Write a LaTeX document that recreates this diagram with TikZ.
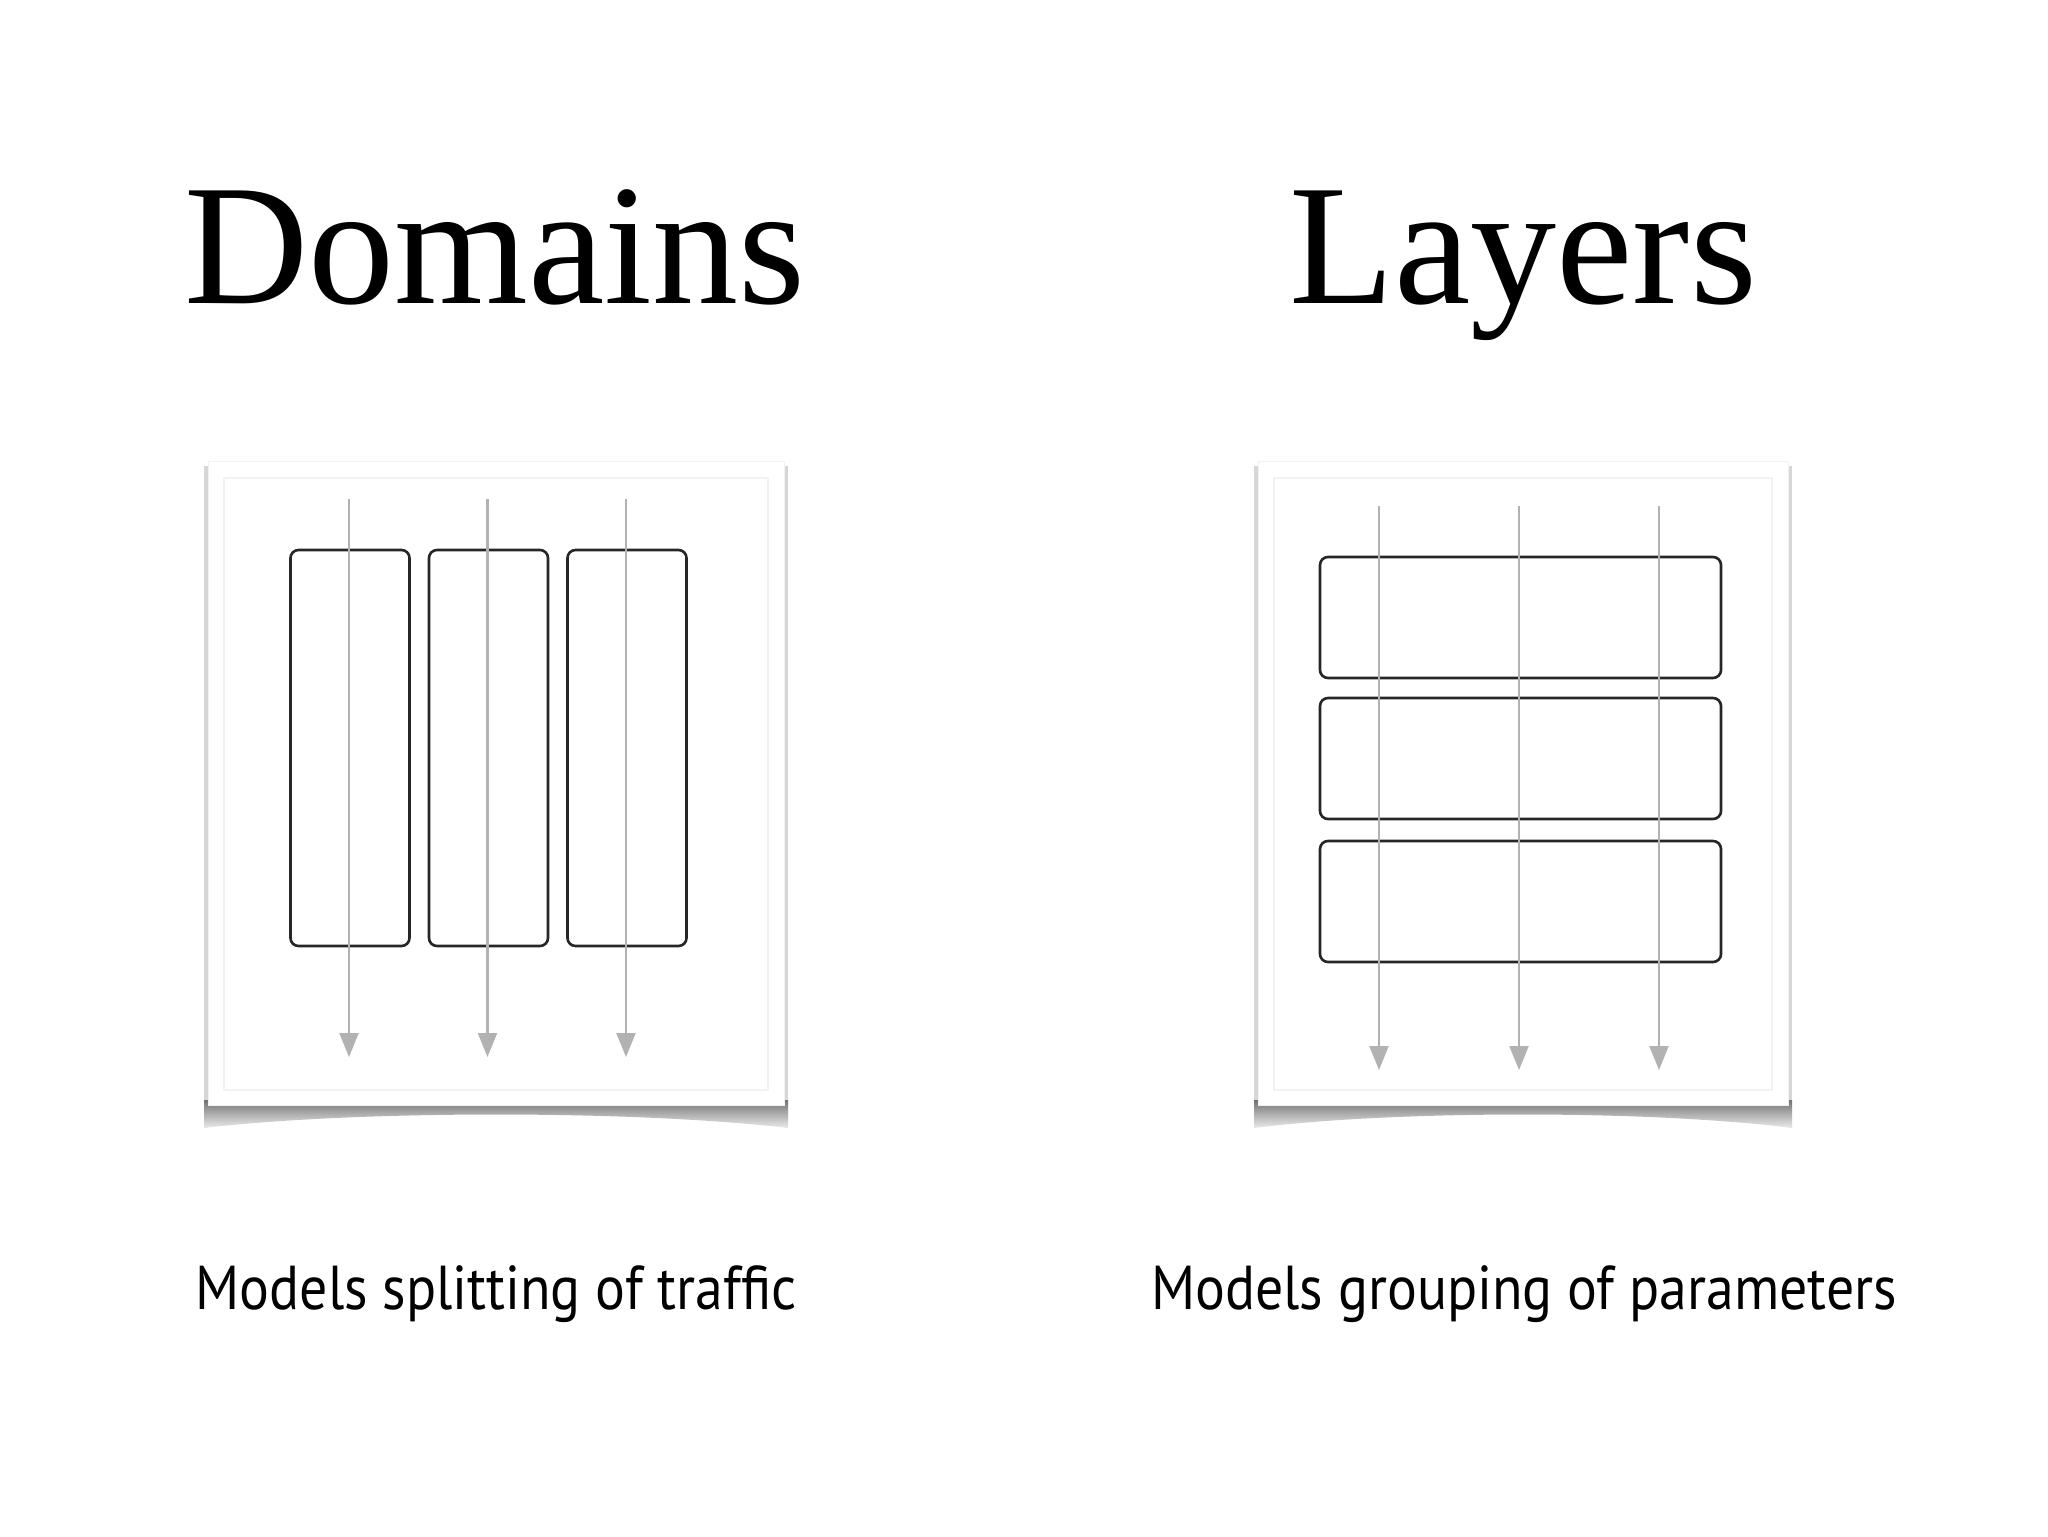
\documentclass[tikz,border=0pt]{standalone}
\usepackage{fontspec}
\setmainfont{Liberation Serif}
\newfontfamily\capfont{PT Sans}
\usetikzlibrary{arrows.meta}
\newcommand\capsq[1]{\scalebox{0.9}[1]{#1}}
\tikzset{
  titletext/.style={anchor=base, font=\fontsize{86}{100}\selectfont},
  captext/.style={anchor=base, font=\capfont\fontsize{31}{38}\selectfont},
  blockbox/.style={draw=black!85, line width=1.3pt, rounded corners=4pt, fill=none, inner sep=0pt},
  flow/.style={draw=black!30, line width=1.1pt, -{Triangle[length=12pt,width=9.5pt]}},
  panelfill/.style={fill=white, draw=black!5, line width=0.5pt},
  panelside/.style={fill=black!16},
  innerline/.style={draw=black!5, line width=0.6pt},
  bottomshadow/.style={top color=black!55, bottom color=black!8, draw=none}
}
\begin{document}
\begin{tikzpicture}[x=0.5pt,y=-0.5pt]
\useasboundingbox (0,0) rectangle (2048,1536);
\fill[white] (0,0) rectangle (2048,1536);

% titles
\node[titletext] (tdom) at (495,303) {Domains};
\node[titletext] (tlay) at (1523,303) {Layers};

% ---------- left panel frame ----------
\fill[panelside] (204,466) rectangle (788,1105);
\shade[bottomshadow] (204,1100) -- (788,1100) -- (788,1128) .. controls (636,1110) and (356,1110) .. (204,1128) -- cycle;
\fill[panelfill] (208,461) rectangle (784,1105);
\draw[innerline] (224,478) rectangle (768,1090);

% ---------- right panel frame ----------
\fill[panelside] (1254,466) rectangle (1792,1105);
\shade[bottomshadow] (1254,1100) -- (1792,1100) -- (1792,1128) .. controls (1652,1110) and (1394,1110) .. (1254,1128) -- cycle;
\fill[panelfill] (1258,461) rectangle (1788,1105);
\draw[innerline] (1274,478) rectangle (1772,1090);

% ---------- domains boxes ----------
\node[blockbox, minimum width=59.5pt, minimum height=198pt] (d1) at (350,748) {};
\node[blockbox, minimum width=59.5pt, minimum height=198pt] (d2) at (488.5,748) {};
\node[blockbox, minimum width=59.5pt, minimum height=198pt] (d3) at (627,748) {};

\coordinate (ds1) at (349,499);
\coordinate (de1) at (349,1057);
\coordinate (ds2) at (487.5,499);
\coordinate (de2) at (487.5,1057);
\coordinate (ds3) at (626,499);
\coordinate (de3) at (626,1057);
\draw[flow] (ds1) -- (de1);
\draw[flow] (ds2) -- (de2);
\draw[flow] (ds3) -- (de3);

% ---------- layers boxes ----------
\node[blockbox, minimum width=200.5pt, minimum height=60.5pt] (l1) at (1520.5,617.5) {};
\node[blockbox, minimum width=200.5pt, minimum height=60.5pt] (l2) at (1520.5,758.5) {};
\node[blockbox, minimum width=200.5pt, minimum height=60.5pt] (l3) at (1520.5,901.5) {};

\coordinate (ls1) at (1379,506);
\coordinate (le1) at (1379,1070);
\coordinate (ls2) at (1519,506);
\coordinate (le2) at (1519,1070);
\coordinate (ls3) at (1659,506);
\coordinate (le3) at (1659,1070);
\draw[flow] (ls1) -- (le1);
\draw[flow] (ls2) -- (le2);
\draw[flow] (ls3) -- (le3);

% captions
\node[captext] (cdom) at (496,1309) {\capsq{Models splitting of traffic}};
\node[captext] (clay) at (1524,1309) {\capsq{Models grouping of parameters}};
\end{tikzpicture}
\end{document}
